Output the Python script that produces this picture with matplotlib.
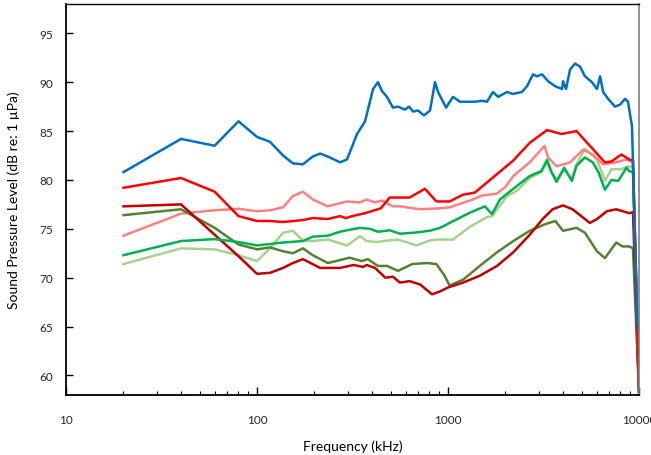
import matplotlib
matplotlib.use("Agg")
import matplotlib.pyplot as plt
from matplotlib.ticker import FixedLocator, LogLocator, NullFormatter, FixedFormatter

plt.rcParams['font.family'] = ['Lato', 'DejaVu Sans']

# ---- data (frequency in kHz, SPL in dB re 1 uPa) ----
blue_f = [20, 40, 60, 80, 100, 117, 137, 154, 174, 196, 214, 241, 272, 296, 334, 368, 405, 430, 451, 479,
          515, 547, 595, 626, 656, 697, 749, 805, 855, 887, 977, 1062, 1156, 1273, 1384, 1507, 1600, 1721,
          1829, 2037, 2190, 2440, 2594, 2788, 2925, 3107, 3343, 3634, 3954, 4002, 4150, 4355, 4625, 4910,
          5213, 5675, 6026, 6256, 6490, 6891, 7488, 7955, 8450, 8754, 9190, 9800, 10000]
blue_v = [80.8, 84.2, 83.5, 86.0, 84.4, 83.9, 82.5, 81.7, 81.6, 82.4, 82.7, 82.3, 81.8, 82.1, 84.7, 86.0,
          89.3, 90.0, 89.1, 88.5, 87.4, 87.5, 87.2, 87.5, 87.0, 87.1, 86.6, 87.1, 90.0, 89.0, 87.4, 88.5,
          88.0, 88.0, 88.0, 88.1, 88.0, 89.0, 88.5, 89.0, 88.8, 89.0, 89.6, 90.8, 90.6, 90.8, 90.1, 89.6,
          89.3, 90.1, 89.3, 91.3, 91.9, 91.6, 90.6, 90.0, 89.3, 90.6, 89.0, 88.3, 87.5, 87.7, 88.3, 88.0,
          85.5, 65.5, 64.5]

red_f = [20, 40, 60, 80, 100, 117, 137, 174, 196, 235, 272, 292, 315, 368, 445, 495, 630, 757, 870, 1020,
         1200, 1380, 1660, 2200, 2680, 3300, 3930, 4710, 5530, 6630, 7180, 8090, 8890, 9300, 10000]
red_v = [79.2, 80.2, 78.8, 76.3, 75.8, 75.8, 75.7, 75.9, 76.1, 76.0, 76.3, 76.1, 76.3, 76.6, 77.1, 78.2,
         78.2, 79.1, 77.8, 77.8, 78.5, 78.7, 80.0, 82.0, 83.8, 85.1, 84.7, 85.0, 83.5, 81.8, 81.9, 82.6,
         82.1, 82.0, 58.8]

pink_f = [20, 40, 60, 80, 100, 117, 137, 154, 174, 196, 235, 296, 346, 375, 415, 450, 515, 560, 715, 910,
          1020, 1350, 1500, 1800, 2000, 2197, 2680, 3200, 3343, 3700, 4355, 5100, 5730, 6490, 7600, 8600,
          9300, 10000]
pink_v = [74.3, 76.55, 76.9, 77.05, 76.8, 76.9, 77.2, 78.35, 78.8, 78.0, 77.3, 77.8, 77.7, 78.0, 77.7,
          77.9, 77.3, 77.3, 77.0, 77.1, 77.2, 78.0, 78.4, 78.6, 79.3, 80.4, 81.8, 83.5, 82.3, 81.4, 81.8,
          83.1, 82.6, 81.6, 81.8, 82.1, 81.8, 58.5]

dred_f = [20, 40, 60, 80, 100, 117, 137, 154, 174, 214, 272, 320, 360, 375, 415, 470, 515, 560, 630, 715,
          825, 910, 1000, 1200, 1466, 1805, 2197, 2680, 3130, 3530, 4000, 4490, 5530, 6026, 6790, 7600,
          8890, 9300, 10000]
dred_v = [77.3, 77.5, 74.4, 72.2, 70.4, 70.5, 71.0, 71.5, 71.9, 71.0, 71.0, 71.3, 71.1, 71.3, 71.0, 70.0,
          70.1, 69.5, 69.65, 69.3, 68.3, 68.6, 69.0, 69.5, 70.2, 71.2, 72.6, 74.4, 76.0, 77.0, 77.4, 77.0,
          75.6, 76.0, 76.8, 77.0, 76.6, 76.7, 58.3]

olive_f = [20, 40, 60, 80, 100, 117, 137, 154, 174, 196, 235, 272, 305, 354, 380, 430, 480, 547, 650, 775,
           870, 960, 1019, 1200, 1466, 1805, 2197, 2680, 3200, 3650, 4000, 4710, 5210, 6026, 6630, 7600,
           8200, 8890, 9300, 10000]
olive_v = [76.4, 77.0, 75.1, 73.4, 72.9, 73.1, 72.7, 72.5, 73.0, 72.3, 71.5, 71.8, 72.05, 71.7, 71.9, 71.2,
           71.2, 70.7, 71.4, 71.5, 71.4, 70.2, 69.2, 69.8, 71.2, 72.6, 73.75, 74.8, 75.45, 75.8, 74.8, 75.1,
           74.6, 72.7, 72.0, 73.6, 73.2, 73.2, 73.0, 58.3]

green_f = [20, 40, 60, 80, 100, 137, 174, 196, 235, 272, 305, 346, 390, 430, 495, 560, 660, 800, 910, 1019,
           1300, 1560, 1700, 1870, 2300, 2680, 3080, 3300, 3470, 3700, 4060, 4450, 4710, 5210, 5730, 6150,
           6630, 7180, 7790, 8600, 8890, 9300, 10000]
green_v = [72.3, 73.75, 73.95, 73.65, 73.3, 73.6, 73.75, 74.2, 74.3, 74.7, 74.9, 75.1, 75.0, 74.7, 74.85,
           74.5, 74.6, 74.8, 75.1, 75.6, 76.65, 77.3, 76.5, 78.0, 79.4, 80.4, 80.9, 82.05, 80.9, 79.8, 81.25,
           79.9, 81.45, 82.3, 81.8, 80.75, 79.0, 80.0, 79.9, 81.25, 80.9, 80.8, 58.2]

lgreen_f = [20, 40, 60, 80, 100, 117, 137, 154, 174, 196, 235, 296, 346, 375, 425, 480, 547, 685, 800, 870,
            1060, 1300, 1600, 1700, 2040, 2300, 2680, 3080, 3300, 3470, 3700, 4060, 4450, 4710, 5210, 6026,
            6630, 7180, 8090, 8750, 9300, 10000]
lgreen_v = [71.4, 73.0, 72.9, 72.3, 71.7, 73.0, 74.6, 74.8, 73.8, 73.75, 73.9, 73.3, 74.25, 73.75, 73.65,
            73.8, 73.9, 73.3, 73.8, 73.9, 73.9, 75.2, 76.2, 76.3, 78.35, 78.9, 80.2, 80.8, 81.8, 80.8, 80.0,
            81.0, 80.2, 81.6, 83.2, 82.1, 79.9, 81.1, 81.1, 81.4, 81.3, 58.2]

x_ticks = [10, 100, 1000, 10000]
x_labels = ['10', '100', '1000', '10000']
y_ticks = [60, 65, 70, 75, 80, 85, 90, 95]

series = [
    (lgreen_f, lgreen_v, '#A9D18E'),
    (pink_f, pink_v, '#FF8080'),
    (olive_f, olive_v, '#548235'),
    (dred_f, dred_v, '#C00000'),
    (green_f, green_v, '#00B050'),
    (red_f, red_v, '#FF0000'),
    (blue_f, blue_v, '#0070C0'),
]

fig = plt.figure(figsize=(6.51, 4.56), dpi=100)
ax = fig.add_axes([66 / 651, 1 - 396 / 456, (639 - 66) / 651, (396 - 5) / 456])

for f, v, c in series:
    ax.plot(f, v, color=c, lw=1.8, solid_joinstyle='round')

ax.set_xscale('log')
ax.set_xlim(10, 10000)
ax.set_ylim(58, 98)

ax.xaxis.set_major_locator(FixedLocator(x_ticks))
ax.xaxis.set_major_formatter(FixedFormatter(x_labels))
ax.xaxis.set_minor_locator(LogLocator(base=10, subs=range(2, 10)))
ax.xaxis.set_minor_formatter(NullFormatter())
ax.set_yticks(y_ticks)

ax.tick_params(axis='x', which='major', direction='in', length=6, width=1, pad=14, labelsize=8.5, colors='#000000')
ax.tick_params(axis='x', which='minor', direction='in', length=3, width=0.8)
ax.tick_params(axis='y', which='major', direction='in', length=5, width=1, pad=9, labelsize=8.5)
for lab in ax.get_xticklabels() + ax.get_yticklabels():
    lab.set_color('#262626')

for s in ['left', 'bottom']:
    ax.spines[s].set_linewidth(1.3)
    ax.spines[s].set_color('black')
ax.spines['top'].set_linewidth(1.0)
ax.spines['top'].set_color('black')
ax.spines['right'].set_linewidth(1.2)
ax.spines['right'].set_color('#7f7f7f')

ax.set_xlabel('Frequency (kHz)', fontsize=10, labelpad=10)
ax.set_ylabel('Sound Pressure Level (dB re: 1 µPa)', fontsize=10, labelpad=14)

fig.savefig('out.png', dpi=100)
